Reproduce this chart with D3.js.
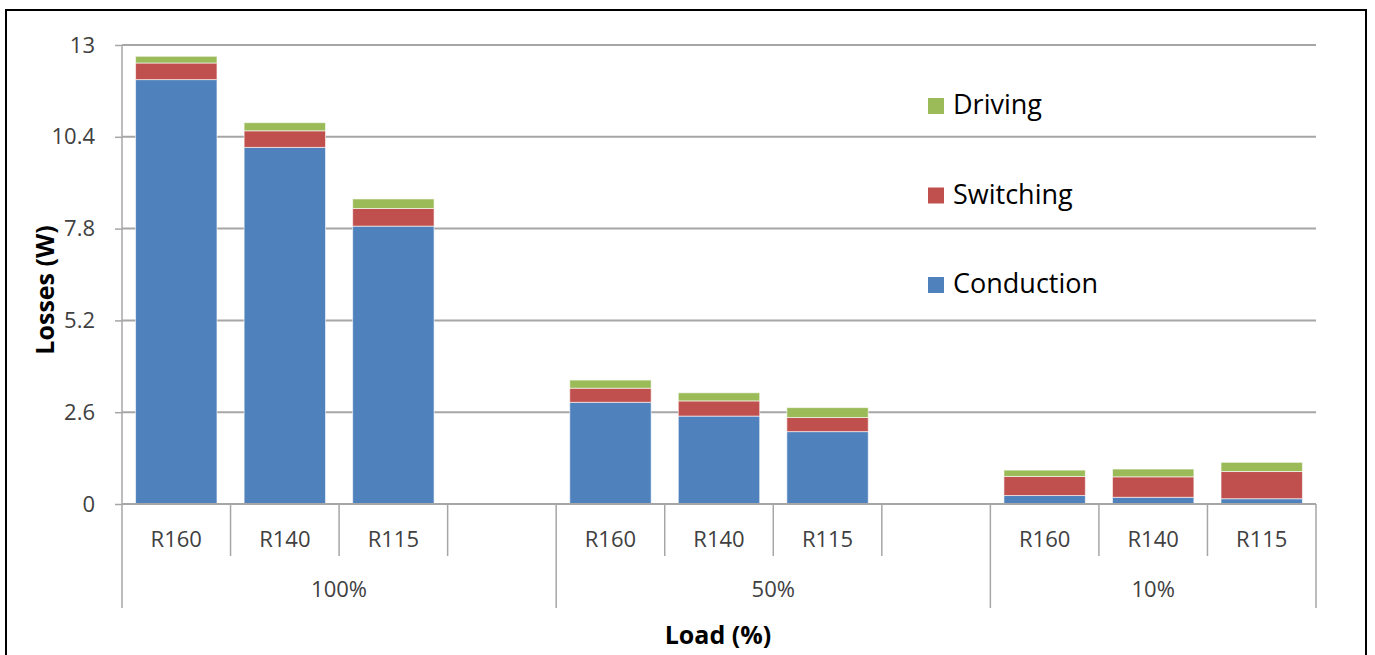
<!DOCTYPE html>
<html>
<head>
<meta charset="utf-8">
<script src="https://cdn.jsdelivr.net/npm/d3@7"></script>
<style>
  body { margin: 0; background: #fff; }
  svg { display: block; font-family: "Open Sans", sans-serif; }
</style>
</head>
<body>
<svg id="chart" width="1375" height="655"></svg>
<script>
//
// Data
//

var groups = ['100%', '50%', '10%']
var designs = ['R160', 'R140', 'R115']
// one value per bar, group by group
var conduction = [12.02, 10.10, 7.87, 2.88, 2.49, 2.05, 0.24, 0.19, 0.15]
var switching = [0.47, 0.47, 0.50, 0.40, 0.43, 0.40, 0.54, 0.58, 0.77]
var driving = [0.19, 0.23, 0.27, 0.23, 0.23, 0.28, 0.18, 0.22, 0.26]
var seriesNames = ['Conduction', 'Switching', 'Driving']
var yTicks = [0, 2.6, 5.2, 7.8, 10.4, 13]

//
// Configuration
//

var colors = { Conduction: '#4f81bd', Switching: '#c0504d', Driving: '#9bbb59' }
var gridColor = '#a6a6a6'
var textColor = '#404040'
var plotLeft = 122, plotRight = 1316, plotTop = 45, plotBottom = 504

var svg = d3.select('#chart')

// slots: 4 per group, last group only has the 3 designs
var slots = []
groups.forEach(function(g, gi) {
  designs.forEach(function(d) { slots.push(g + '|' + d) })
  if (gi < groups.length - 1) slots.push(g + '|blank')
})

var x = d3.scaleBand().domain(slots).range([plotLeft, plotRight]).padding(0)
var y = d3.scaleLinear().domain([0, 13]).range([plotBottom, plotTop])

// stacked rows
var rows = []
groups.forEach(function(g, gi) {
  designs.forEach(function(d, di) {
    var i = gi * designs.length + di
    rows.push({ key: g + '|' + d, Conduction: conduction[i], Switching: switching[i], Driving: driving[i] })
  })
})
var stack = d3.stack().keys(seriesNames)(rows)

// frame
svg.append('rect')
  .attr('x', 6).attr('y', 10).attr('width', 1360).attr('height', 700)
  .attr('fill', 'none').attr('stroke', '#000').attr('stroke-width', 2)

// gridlines
svg.append('g')
  .selectAll('line')
  .data(yTicks.filter(function(t) { return t > 0 }))
  .join('line')
  .attr('x1', plotLeft).attr('x2', plotRight)
  .attr('y1', function(d) { return y(d) }).attr('y2', function(d) { return y(d) })
  .attr('stroke', gridColor).attr('stroke-width', 2)

// y axis
var yAxis = svg.append('g')
  .attr('transform', 'translate(' + plotLeft + ',0)')
  .call(d3.axisLeft(y).tickValues(yTicks).tickSize(7).tickPadding(20)
    .tickFormat(function(d) { return String(d) }))
yAxis.select('.domain').remove()
yAxis.selectAll('.tick line').attr('stroke', gridColor).attr('stroke-width', 1.5)
yAxis.selectAll('.tick text')
  .attr('font-size', 22).attr('fill', textColor).attr('font-family', '"Open Sans", sans-serif')
svg.append('line')
  .attr('x1', plotLeft).attr('x2', plotLeft).attr('y1', plotTop).attr('y2', 608)
  .attr('stroke', gridColor).attr('stroke-width', 1.5)

// bars
var barW = x.bandwidth() * 0.75
svg.append('g')
  .selectAll('g')
  .data(stack)
  .join('g')
  .attr('fill', function(s) { return colors[s.key] })
  .selectAll('rect')
  .data(function(s) { return s })
  .join('rect')
  .attr('x', function(d) { return x(d.data.key) + (x.bandwidth() - barW) / 2 })
  .attr('width', barW)
  .attr('y', function(d) { return y(d[1]) })
  .attr('height', function(d) { return y(d[0]) - y(d[1]) })
  .attr('stroke', 'rgba(255,255,255,0.6)').attr('stroke-width', 1)

// x axis line
svg.append('line')
  .attr('x1', plotLeft).attr('x2', plotRight).attr('y1', plotBottom).attr('y2', plotBottom)
  .attr('stroke', gridColor).attr('stroke-width', 2)

// category separators (inside a group: short)
var inner = slots.slice(1).filter(function(s, i) {
  return s.split('|')[0] === slots[i].split('|')[0]
})
svg.append('g')
  .selectAll('line')
  .data(inner)
  .join('line')
  .attr('x1', function(s) { return x(s) }).attr('x2', function(s) { return x(s) })
  .attr('y1', plotBottom).attr('y2', 556)
  .attr('stroke', gridColor).attr('stroke-width', 1.5)

// group separators (long), plus the right end
var groupEdges = groups.slice(1).map(function(g) { return x(g + '|' + designs[0]) }).concat([plotRight])
svg.append('g')
  .selectAll('line')
  .data(groupEdges)
  .join('line')
  .attr('x1', function(d) { return d }).attr('x2', function(d) { return d })
  .attr('y1', plotBottom).attr('y2', 608)
  .attr('stroke', gridColor).attr('stroke-width', 1.5)

// design labels
svg.append('g')
  .selectAll('text')
  .data(rows)
  .join('text')
  .attr('x', function(d) { return x(d.key) + x.bandwidth() / 2 })
  .attr('y', 547)
  .attr('text-anchor', 'middle')
  .attr('font-size', 22).attr('fill', textColor)
  .text(function(d) { return d.key.split('|')[1] })

// group labels
svg.append('g')
  .selectAll('text')
  .data(groups)
  .join('text')
  .attr('x', function(g, gi) {
    var first = x(g + '|' + designs[0])
    var end = gi < groups.length - 1 ? x(groups[gi + 1] + '|' + designs[0]) : plotRight
    return (first + end) / 2
  })
  .attr('y', 597)
  .attr('text-anchor', 'middle')
  .attr('font-size', 22).attr('fill', textColor)
  .text(function(g) { return g })

// axis titles
svg.append('text')
  .attr('x', 718).attr('y', 644)
  .attr('text-anchor', 'middle')
  .attr('font-size', 25).attr('font-weight', 'bold').attr('fill', '#000')
  .text('Load (%)')

svg.append('text')
  .attr('transform', 'translate(54,290) rotate(-90)')
  .attr('text-anchor', 'middle')
  .attr('font-size', 25).attr('font-weight', 'bold').attr('fill', '#000')
  .text('Losses (W)')

// legend
var legend = svg.append('g')
  .selectAll('g')
  .data(seriesNames.slice().reverse())
  .join('g')
  .attr('transform', function(d, i) { return 'translate(928,' + (114 + i * 89.5) + ')' })
legend.append('rect')
  .attr('y', -16).attr('width', 16).attr('height', 16)
  .attr('fill', function(d) { return colors[d] })
legend.append('text')
  .attr('x', 25).attr('y', 0)
  .attr('font-size', 27).attr('fill', '#000')
  .text(function(d) { return d })
</script>
</body>
</html>
